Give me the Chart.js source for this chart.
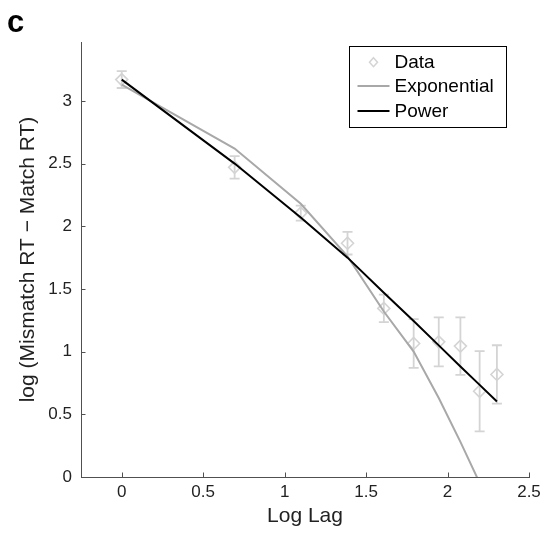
<!DOCTYPE html>
<html>
<head>
	<meta charset="utf-8">
	<title>Log lag fit</title>
	<script src="https://cdn.jsdelivr.net/npm/chart.js@4.4.1/dist/chart.umd.min.js"></script>
	<style>
		html, body { margin: 0; padding: 0; background: #fff; }
		#wrap { width: 542px; height: 534px; position: relative; }
	</style>
</head>
<body>
	<div id="wrap">
		<canvas id="chart" width="542" height="534"></canvas>
	</div>
	<script>
	// datos
	var logLag = [0, 0.693, 1.099, 1.386, 1.609, 1.792, 1.946, 2.079, 2.197, 2.303];
	var dataMean = [3.17, 2.47, 2.105, 1.865, 1.345, 1.065, 1.078, 1.044, 0.684, 0.818];
	var dataErr = [0.067, 0.09, 0.06, 0.09, 0.11, 0.195, 0.195, 0.23, 0.32, 0.233];
	var expFit = [3.13, 2.62, 2.18, 1.76, 1.32, 1.0, 0.63, 0.28, -0.047, -0.40];
	var powerFit = [3.17, 2.50, 2.07, 1.75, 1.47, 1.245, 1.05, 0.882, 0.735, 0.603];
	var seriesNames = ["Data", "Exponential", "Power"];
	var xTicks = [0, 0.5, 1, 1.5, 2, 2.5];
	var yTicks = [0, 0.5, 1, 1.5, 2, 2.5, 3];
	var panelLabel = "c";
	var xTitle = "Log Lag";
	var yTitle = "log (Mismatch RT \u2212 Match RT)";

	var FONT = "'Liberation Sans', Arial, Helvetica, sans-serif";
	var AXIS = "#505050";
	var DATA_GREY = "#d4d4d4";
	var EXP_GREY = "#a8a8a8";

	function pts(ys) {
		return logLag.map(function(x, i){ return {x: x, y: ys[i]}; });
	}

	// ticks hacia adentro, barras de error, leyenda y la letra del panel
	var extras = {
		id: "extras",
		beforeDatasetsDraw: function(chart) {
			var ctx = chart.ctx, xs = chart.scales.x, ys = chart.scales.y;
			ctx.save();
			ctx.strokeStyle = DATA_GREY;
			ctx.lineWidth = 1.8;
			logLag.forEach(function(x, i){
				var px = xs.getPixelForValue(x);
				var top = ys.getPixelForValue(dataMean[i] + dataErr[i]);
				var bot = ys.getPixelForValue(dataMean[i] - dataErr[i]);
				ctx.beginPath();
				ctx.moveTo(px, top); ctx.lineTo(px, bot);
				ctx.moveTo(px - 5, top); ctx.lineTo(px + 5, top);
				ctx.moveTo(px - 5, bot); ctx.lineTo(px + 5, bot);
				ctx.stroke();
			});
			ctx.restore();
		},
		afterDraw: function(chart) {
			var ctx = chart.ctx, ca = chart.chartArea;
			var xs = chart.scales.x, ys = chart.scales.y;
			ctx.save();
			// ticks
			ctx.strokeStyle = AXIS;
			ctx.lineWidth = 1;
			ctx.beginPath();
			xTicks.forEach(function(v){
				var p = Math.round(xs.getPixelForValue(v)) + 0.5;
				ctx.moveTo(p, ca.bottom); ctx.lineTo(p, ca.bottom - 4.5);
			});
			yTicks.forEach(function(v){
				var p = Math.round(ys.getPixelForValue(v)) + 0.5;
				ctx.moveTo(ca.left, p); ctx.lineTo(ca.left + 4.5, p);
			});
			ctx.stroke();

			// leyenda
			var bx = Math.round(ca.right - 180) + 0.5, by = Math.round(ca.top + 4) + 0.5;
			var bw = 157, bh = 81;
			ctx.fillStyle = "#fff";
			ctx.fillRect(bx, by, bw, bh);
			ctx.strokeStyle = "#000";
			ctx.lineWidth = 1;
			ctx.strokeRect(bx, by, bw, bh);
			var rows = [15.7, 39.5, 64.5];
			// diamante
			ctx.strokeStyle = DATA_GREY;
			ctx.lineWidth = 1.5;
			var dx = bx + 24, dy = by + rows[0];
			ctx.beginPath();
			ctx.moveTo(dx, dy - 4.5); ctx.lineTo(dx + 4, dy); ctx.lineTo(dx, dy + 4.5); ctx.lineTo(dx - 4, dy); ctx.closePath();
			ctx.stroke();
			ctx.lineWidth = 2;
			ctx.strokeStyle = EXP_GREY;
			ctx.beginPath(); ctx.moveTo(bx + 8, by + rows[1]); ctx.lineTo(bx + 40, by + rows[1]); ctx.stroke();
			ctx.strokeStyle = "#000";
			ctx.beginPath(); ctx.moveTo(bx + 8, by + rows[2]); ctx.lineTo(bx + 40, by + rows[2]); ctx.stroke();
			ctx.fillStyle = "#000";
			ctx.font = "19px " + FONT;
			ctx.textBaseline = "middle";
			ctx.textAlign = "left";
			seriesNames.forEach(function(n, i){ ctx.fillText(n, bx + 45, by + rows[i] + 1); });

			// letra del panel
			ctx.font = "bold 31px " + FONT;
			ctx.textBaseline = "alphabetic";
			ctx.fillText(panelLabel, 7, 32);
			ctx.restore();
		}
	};

	function tickText(v) { return String(v); }

	var canvas = document.getElementById("chart").getContext("2d");
	window.grafica = new Chart(canvas, {
		type: "scatter",
		data: {
			datasets: [{
				label: seriesNames[0],
				data: pts(dataMean),
				showLine: false,
				pointStyle: "rectRot",
				pointRadius: 6,
				pointBorderWidth: 1.6,
				pointBorderColor: DATA_GREY,
				pointBackgroundColor: "rgba(0,0,0,0)",
				order: 3
			}, {
				label: seriesNames[1],
				data: pts(expFit),
				showLine: true,
				borderColor: EXP_GREY,
				borderWidth: 2,
				pointRadius: 0,
				tension: 0,
				clip: 0,
				order: 2
			}, {
				label: seriesNames[2],
				data: pts(powerFit),
				showLine: true,
				borderColor: "#000",
				borderWidth: 2,
				pointRadius: 0,
				tension: 0,
				order: 1
			}]
		},
		options: {
			responsive: false,
			animation: false,
			events: [],
			layout: { padding: { left: 0, right: 13, top: 42, bottom: 0 } },
			plugins: {
				legend: { display: false },
				tooltip: { enabled: false }
			},
			scales: {
				x: {
					type: "linear",
					min: -0.25,
					max: 2.5,
					afterBuildTicks: function(s){ s.ticks = xTicks.map(function(v){ return {value: v}; }); },
					afterFit: function(s){ s.height = 57; s.paddingRight = 0; s.paddingLeft = 0; },
					grid: { display: false, drawTicks: false },
					border: { display: true, color: AXIS, width: 1 },
					ticks: { color: "#222", padding: 5, callback: tickText, font: { family: FONT, size: 17 } },
					title: { display: true, text: xTitle, color: "#222", padding: { top: 0, bottom: 5 }, font: { family: FONT, size: 21 } }
				},
				y: {
					type: "linear",
					min: 0,
					max: 3.47,
					afterBuildTicks: function(s){ s.ticks = yTicks.map(function(v){ return {value: v}; }); },
					afterFit: function(s){ s.width = 81; },
					grid: { display: false, drawTicks: false },
					border: { display: true, color: AXIS, width: 1 },
					ticks: { color: "#222", padding: 9, callback: tickText, font: { family: FONT, size: 17 } },
					title: { display: true, text: yTitle, color: "#222", padding: { top: 16, bottom: 0 }, font: { family: FONT, size: 21 } }
				}
			}
		},
		plugins: [extras]
	});
	</script>
</body>
</html>
